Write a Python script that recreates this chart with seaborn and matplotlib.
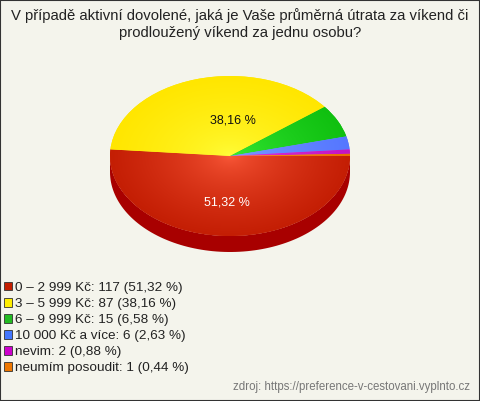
import matplotlib
matplotlib.use("Agg")
import matplotlib.pyplot as plt
import seaborn as sns
import numpy as np
from matplotlib.patches import Patch, Polygon, Rectangle
from matplotlib.colors import LinearSegmentedColormap

# --- dati ---
categories = ["0 – 2 999 Kč", "3 – 5 999 Kč", "6 – 9 999 Kč",
              "10 000 Kč a více", "nevim", "neumím posoudit"]
counts = [117, 87, 15, 6, 2, 1]
base_colors = ["#C41E04", "#FFE600", "#10C010", "#5577FF", "#C414C4", "#E87000"]
light_colors = ["#FF5E3E", "#FFFF40", "#3CF03C", "#86A4FF", "#E444E4", "#FFA030"]
side_colors = ["#A80000", "#C8B400", "#0A8A0A", "#3050C0", "#900090", "#B05000"]
legend_colors = ["#C41E00", "#FFEE00", "#22BB22", "#4477FF", "#CC00CC", "#EE7700"]

title = "V případě aktivní dovolené, jaká je Vaše průměrná útrata za víkend či\nprodloužený víkend za jednu osobu?"
source = "zdroj: https://preference-v-cestovani.vyplnto.cz"

sns.set_theme(style="white")
plt.rcParams['font.family'] = ['Liberation Sans', 'DejaVu Sans']

W, H = 480, 401
BG = "#F4F4EC"
fig = plt.figure(figsize=(W / 100, H / 100), dpi=100, facecolor=BG)

# geometria della torta (pixel)
cx, cy, rx, ry, depth = 230, 156, 120, 80, 16
ax = fig.add_axes([0, 0, 1, 1])
ax.set_facecolor(BG)

total = sum(counts)
pcts = [c / total * 100 for c in counts]

def fmt_pct(p):
    return f"{p:.2f} %".replace(".", ",") if p > 10 else ""

wedges, _, autotexts = ax.pie(counts, colors=base_colors, startangle=0, counterclock=False,
                              autopct=fmt_pct, pctdistance=0.52,
                              wedgeprops=dict(linewidth=0),
                              textprops=dict(fontsize=9))
ax.set_aspect('auto')

# gradiente radiale per ogni spicchio
gx, gy = np.meshgrid(np.linspace(-1, 1, 300), np.linspace(-1, 1, 300))
dist = np.clip(np.sqrt(gx ** 2 + gy ** 2), 0, 1) ** 0.55
for w, lc, bc in zip(wedges, light_colors, base_colors):
    cmap = LinearSegmentedColormap.from_list("g", [lc, bc])
    im = ax.imshow(dist, cmap=cmap, vmin=0, vmax=1, extent=(-1, 1, -1, 1),
                   origin='lower', aspect='auto', zorder=w.get_zorder(), interpolation='bilinear')
    im.set_clip_path(w)
ax.set_xlim(-cx / rx, (W - cx) / rx)
ax.set_ylim(-(H - cy) / ry, cy / ry)
ax.axis('off')

# lato 3D (parte frontale)
d = depth / ry
for w, sc in zip(wedges, side_colors):
    t1, t2 = w.theta1 % 360, w.theta2 % 360
    if t2 <= t1:
        t2 += 360
    for off in (0, 360):
        a, b = max(t1, 180 + off), min(t2, 360 + off)
        if b > a:
            t = np.radians(np.linspace(a, b, 100))
            xs = np.cos(t)
            ys = np.sin(t)
            pts = np.concatenate([np.column_stack([xs, ys]),
                                  np.column_stack([xs[::-1], ys[::-1] - d])])
            ax.add_patch(Polygon(pts, closed=True, facecolor=sc, edgecolor='none', zorder=0.5))

for i, t in enumerate(autotexts):
    t.set_color("white" if i == 0 else "#111111")
    t.set_zorder(5)
# l'etichetta gialla sta quasi in alto al centro
x, y = autotexts[1].get_position()
autotexts[1].set_position((x + 0.17, y - 0.06))
x, y = autotexts[0].get_position()
autotexts[0].set_position((x, y - 0.06))

# titolo
fig.text(0.5, 1 - 24 / H, title, ha='center', va='center', fontsize=10.7,
         color="#222222", linespacing=1.2)

# legenda
labels = [f"{c}: {n} ({fmt:.2f} %)".replace(".", ",") for c, n, fmt in zip(categories, counts, pcts)]
handles = [Patch(facecolor=c, edgecolor="#333333", linewidth=0.6) for c in legend_colors]
fig.legend(handles, labels, loc='upper left', bbox_to_anchor=(0 / W, 1 - 278 / H),
           frameon=False, fontsize=9.7, handlelength=0.58, handleheight=0.58,
           handletextpad=0.2, labelspacing=0.3, borderaxespad=0, borderpad=0.3,
           labelcolor="#222222")

fig.text(1 - 10 / W, 1 - 387 / H, source, ha='right', va='center', fontsize=8.3, color="#777777")

# bordo
fig.patches.append(Rectangle((0, 0), 1, 1, transform=fig.transFigure, fill=False,
                             edgecolor="#333333", linewidth=1.5))

plt.savefig("out.png", dpi=100, facecolor=BG)
plt.close()
